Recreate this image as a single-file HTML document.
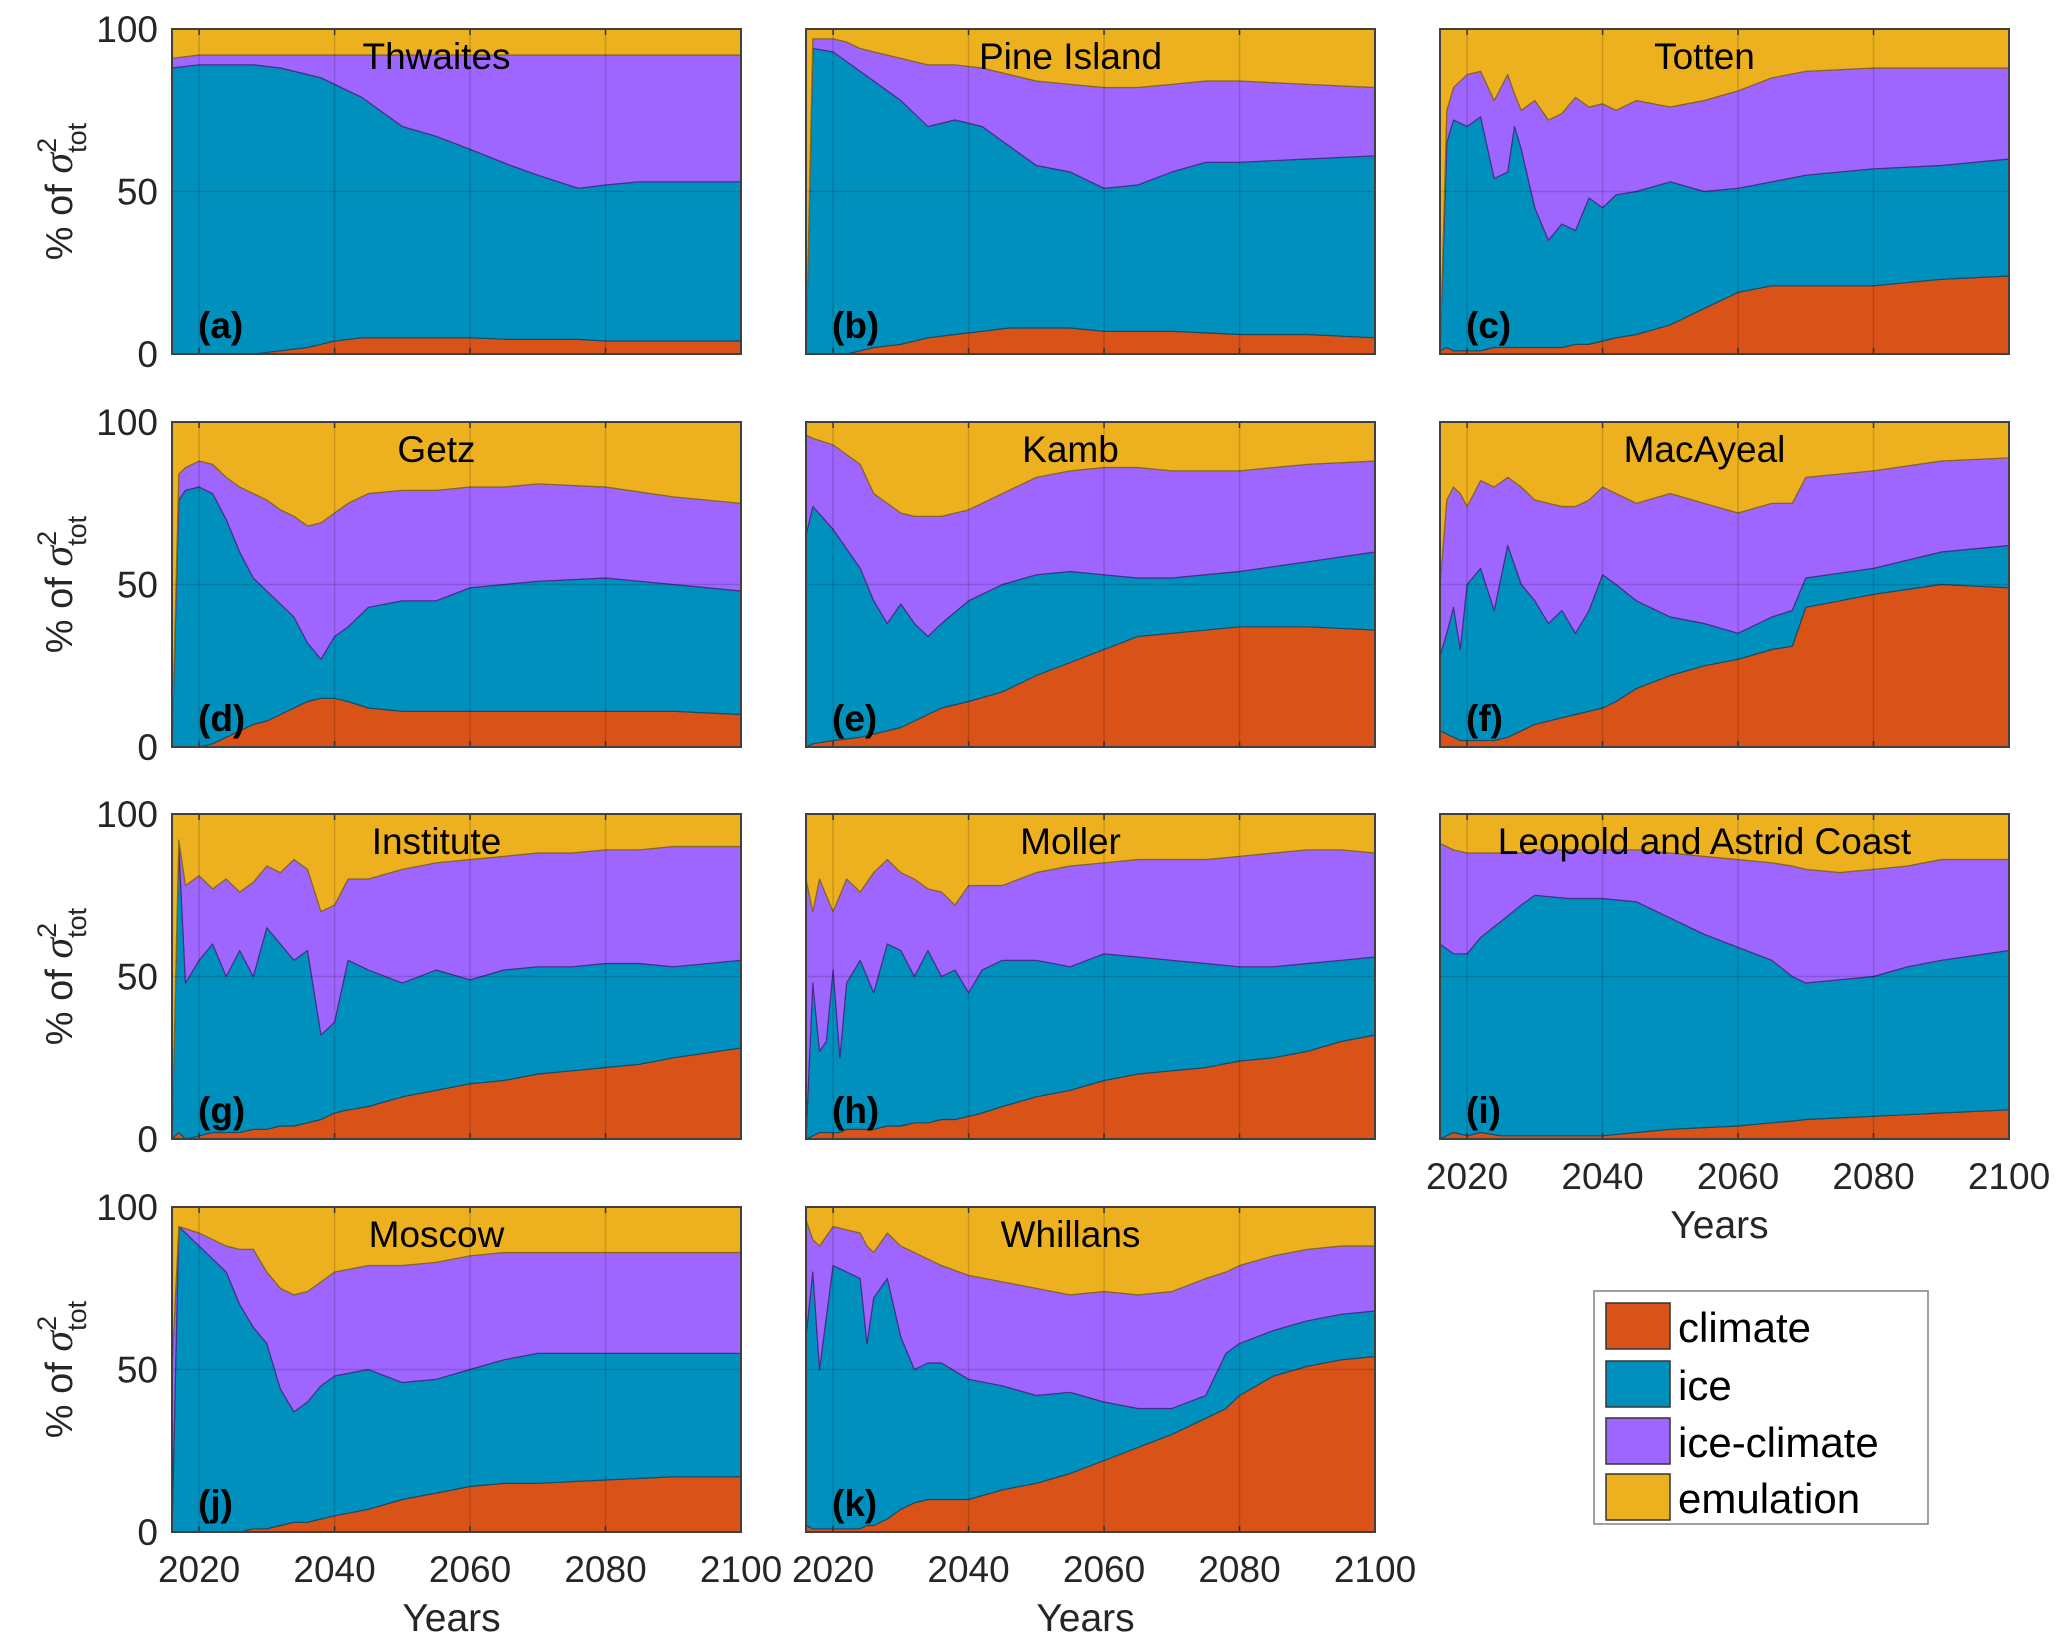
<!DOCTYPE html>
<html><head><meta charset="utf-8"><style>
html,body{margin:0;padding:0;background:#fff}
svg{display:block;font-family:"Liberation Sans",Arial,sans-serif}
</style></head><body>
<svg id="fig" width="2067" height="1650" viewBox="0 0 2067 1650" xmlns="http://www.w3.org/2000/svg"></svg>
<script>
const panelNames = ["Thwaites","Pine Island","Totten","Getz","Kamb","MacAyeal","Institute","Moller","Leopold and Astrid Coast","Moscow","Whillans"];
const panelLetters = ["(a)","(b)","(c)","(d)","(e)","(f)","(g)","(h)","(i)","(j)","(k)"];
const xTicks = [2020,2040,2060,2080,2100];
const yTicks = [0,50,100];
const seriesNames = ["climate","ice","ice-climate","emulation"];
// cumulative tops: climate, climate+ice, climate+ice+ice-climate (rest = emulation)
const yearsA=[2016,2020,2024,2028,2032,2036,2038,2040,2042,2044,2046,2050,2055,2060,2066,2070,2076,2080,2085,2100];
const climA=[0,0,0,0,1,2,3,4,4.5,5,5,5,5,5,4.5,4.5,4.5,4,4,4];
const iceA=[88,89,89,89,88,86,85,83,81,79,76,70,67,63,58,55,51,52,53,53];
const icA=[91,92,92,92,92,92,92,92,92,92,92,92,92,92,92,92,92,92,92,92];
const yearsB=[2016,2017,2020,2022,2024,2026,2030,2034,2038,2042,2046,2050,2055,2060,2065,2070,2075,2080,2090,2100];
const climB=[0,0,0,0,1,2,3,5,6,7,8,8,8,7,7,7,6.5,6,6,5];
const iceB=[0,94,93,90,87,84,78,70,72,70,64,58,56,51,52,56,59,59,60,61];
const icB=[0,97,97,96,94,93,91,89,89,88,86,84,83,82,82,83,84,84,83,82];
const yearsC=[2016,2017,2018,2020,2022,2024,2026,2027,2028,2030,2032,2034,2036,2038,2040,2042,2045,2050,2055,2060,2065,2070,2080,2090,2100];
const climC=[1,2,1,1,1,2,2,2,2,2,2,2,3,3,4,5,6,9,14,19,21,21,21,23,24];
const iceC=[0,65,72,70,73,54,56,70,63,45,35,40,38,48,45,49,50,53,50,51,53,55,57,58,60];
const icC=[0,75,82,86,87,78,86,80,75,78,72,74,79,76,77,75,78,76,78,81,85,87,88,88,88];
const yearsD=[2016,2017,2018,2020,2022,2024,2026,2028,2030,2032,2034,2036,2038,2040,2042,2045,2050,2055,2060,2065,2070,2080,2090,2100];
const climD=[0,0,0,0,1,3,5,7,8,10,12,14,15,15,14,12,11,11,11,11,11,11,11,10];
const iceD=[0,76,79,80,78,70,60,52,48,44,40,32,27,34,37,43,45,45,49,50,51,52,50,48];
const icD=[0,84,86,88,87,83,80,78,76,73,71,68,69,72,75,78,79,79,80,80,81,80,77,75];
const yearsE=[2016,2017,2020,2024,2026,2028,2030,2032,2034,2036,2040,2045,2050,2055,2060,2065,2070,2080,2090,2100];
const climE=[0,1,2,3,4,5,6,8,10,12,14,17,22,26,30,34,35,37,37,36];
const iceE=[65,74,67,55,45,38,44,38,34,38,45,50,53,54,53,52,52,54,57,60];
const icE=[96,95,93,87,78,75,72,71,71,71,73,78,83,85,86,86,85,85,87,88];
const yearsF=[2016,2017,2018,2019,2020,2022,2024,2026,2028,2030,2032,2034,2036,2038,2040,2042,2045,2050,2055,2060,2065,2068,2070,2080,2090,2100];
const climF=[5,4,3,2,2,2,2,3,5,7,8,9,10,11,12,14,18,22,25,27,30,31,43,47,50,49];
const iceF=[28,35,43,30,50,55,42,62,50,45,38,42,35,42,53,50,45,40,38,35,40,42,52,55,60,62];
const icF=[50,76,80,78,74,82,80,83,80,76,75,74,74,76,80,78,75,78,75,72,75,75,83,85,88,89];
const yearsG=[2016,2017,2018,2020,2022,2024,2026,2028,2030,2032,2034,2036,2038,2040,2042,2045,2050,2055,2060,2065,2070,2075,2080,2085,2090,2100];
const climG=[0,2,0,1,2,2,2,3,3,4,4,5,6,8,9,10,13,15,17,18,20,21,22,23,25,28];
const iceG=[0,90,48,55,60,50,58,50,65,60,55,58,32,36,55,52,48,52,49,52,53,53,54,54,53,55];
const icG=[0,92,78,81,77,80,76,79,84,82,86,83,70,72,80,80,83,85,86,87,88,88,89,89,90,90];
const yearsH=[2016,2017,2018,2019,2020,2021,2022,2024,2026,2028,2030,2032,2034,2036,2038,2040,2042,2045,2050,2055,2060,2065,2070,2075,2080,2085,2090,2095,2100];
const climH=[0,1,2,2,2,2,3,3,3,4,4,5,5,6,6,7,8,10,13,15,18,20,21,22,24,25,27,30,32];
const iceH=[0,48,27,30,52,25,48,55,45,60,58,50,58,50,52,45,52,55,55,53,57,56,55,54,53,53,54,55,56];
const icH=[80,70,80,75,70,75,80,76,82,86,82,80,77,76,72,78,78,78,82,84,85,86,86,86,87,88,89,89,88];
const yearsI=[2016,2018,2020,2022,2025,2028,2030,2035,2040,2045,2050,2055,2060,2065,2068,2070,2075,2080,2085,2090,2100];
const climI=[0,2,1,2,1,1,1,1,1,2,3,3.5,4,5,5.5,6,6.5,7,7.5,8,9];
const iceI=[60,57,57,62,67,72,75,74,74,73,68,63,59,55,50,48,49,50,53,55,58];
const icI=[91,89,88,88,88,88,89,89,89,89,88,87,86,85,84,83,82,83,84,86,86];
const yearsJ=[2016,2017,2020,2024,2026,2028,2030,2032,2034,2036,2038,2040,2045,2050,2055,2060,2065,2070,2080,2090,2100];
const climJ=[0,0,0,0,0,1,1,2,3,3,4,5,7,10,12,14,15,15,16,17,17];
const iceJ=[0,94,88,80,70,63,58,44,37,40,45,48,50,46,47,50,53,55,55,55,55];
const icJ=[50,94,92,88,87,87,80,75,73,74,77,80,82,82,83,85,86,86,86,86,86];
const yearsK=[2016,2017,2018,2020,2022,2024,2025,2026,2028,2030,2032,2034,2036,2040,2045,2050,2055,2060,2065,2070,2075,2078,2080,2085,2090,2095,2100];
const climK=[2,1,1,1,1,1,2,2,4,7,9,10,10,10,13,15,18,22,26,30,35,38,42,48,51,53,54];
const iceK=[60,80,50,82,80,78,58,72,78,60,50,52,52,47,45,42,43,40,38,38,42,55,58,62,65,67,68];
const icK=[96,90,88,94,93,92,88,86,92,88,86,84,82,79,77,75,73,74,73,74,78,80,82,85,87,88,88];

const panelYears=[yearsA,yearsB,yearsC,yearsD,yearsE,yearsF,yearsG,yearsH,yearsI,yearsJ,yearsK];
const panelClim=[climA,climB,climC,climD,climE,climF,climG,climH,climI,climJ,climK];
const panelIce=[iceA,iceB,iceC,iceD,iceE,iceF,iceG,iceH,iceI,iceJ,iceK];
const panelIc=[icA,icB,icC,icD,icE,icF,icG,icH,icI,icJ,icK];

const colors=["#D95319","#0090BE","#9F66FF","#EDB120"];
const edges=["#8a3a14","#0a4f6e","#4b2b8a","#8a6a12"];
const NS="http://www.w3.org/2000/svg";
const svg=document.getElementById("fig");
const colLeft=[172,806,1440], rowTop=[29,422,814,1207], PW=569, PH=325;
const X0=2016,X1=2100;
function mk(tag,attrs,parent){const e=document.createElementNS(NS,tag);for(const k in attrs)e.setAttribute(k,attrs[k]);(parent||svg).appendChild(e);return e;}

for(let p=0;p<11;p++){
  const r=Math.floor(p/3), c=p%3;
  const L=colLeft[c], T=rowTop[r];
  const xs=yr=>L+(yr-X0)/(X1-X0)*PW;
  const ys=v=>T+PH-v/100*PH;
  const g=mk("g",{});
  
  
  const yrs=panelYears[p];
  const layers=[yrs.map(()=>0),panelClim[p],panelIce[p],panelIc[p],yrs.map(()=>100)];
  for(let s=0;s<4;s++){
    const lo=layers[s], hi=layers[s+1];
    let d="M"+yrs.map((y,i)=>xs(y).toFixed(1)+","+ys(hi[i]).toFixed(1)).join(" L");
    for(let i=yrs.length-1;i>=0;i--) d+=" L"+xs(yrs[i]).toFixed(1)+","+ys(lo[i]).toFixed(1);
    d+="Z";
    const a=mk("path",{d:d,fill:colors[s],stroke:edges[s],"stroke-width":1.2,"stroke-linejoin":"round"},g);
    
    
  }
  for(const t of xTicks){ if(t<X1){ const l=mk("line",{x1:xs(t),x2:xs(t),y1:T,y2:T+PH,stroke:"#000","stroke-opacity":0.15,"stroke-width":1.5},g);
    
    
    mk("line",{x1:xs(t),x2:xs(t),y1:T+PH,y2:T+PH-6,stroke:"#333","stroke-width":1.5},g);
    mk("line",{x1:xs(t),x2:xs(t),y1:T,y2:T+6,stroke:"#333","stroke-width":1.5},g);} }
  mk("line",{x1:L,x2:L+PW,y1:ys(50),y2:ys(50),stroke:"#000","stroke-opacity":0.15,"stroke-width":1.5},g);
  const box=mk("rect",{x:L,y:T,width:PW,height:PH,fill:"none",stroke:"#404040","stroke-width":2},g);
  
  
  const title=mk("text",{x:L+PW/2-20,y:T+40,"font-size":37,"text-anchor":"middle",fill:"#000"},g);
  title.textContent=panelNames[p];
  
  
  const lt=mk("text",{x:L+26,y:T+PH-16,"font-size":37,"font-weight":"bold",fill:"#000"},g);
  lt.textContent=panelLetters[p];
  
  
  if(c===0){
    for(const t of yTicks){const tx=mk("text",{x:L-14,y:ys(t)+13,"font-size":37,"text-anchor":"end",fill:"#262626"},g);
      tx.textContent=t;
      
      }
    const yl=mk("text",{transform:`translate(72,${T+PH/2}) rotate(-90)`,"font-size":38,"text-anchor":"middle",fill:"#262626"},g);
    yl.innerHTML='% of  <tspan font-style="italic" font-family="Liberation Serif, serif" font-size="42">σ</tspan><tspan font-size="27" dy="-16">2</tspan><tspan font-size="27" dx="-15" dy="30">tot</tspan>';
    
    
  }
  if(p>=8){
    for(const t of xTicks){const tx=mk("text",{x:xs(t),y:T+PH+50,"font-size":37,"text-anchor":"middle",fill:"#262626"},g);
      tx.textContent=t;
      
      }
    const xl=mk("text",{x:L+PW/2-5,y:T+PH+99,"font-size":39,"text-anchor":"middle",fill:"#262626"},g);
    xl.textContent="Years";
    
    
  }
}
const lg=mk("g",{});


mk("rect",{x:1594,y:1291,width:334,height:233,fill:"#fff",stroke:"#808080","stroke-width":1.5},lg);
const ly=[1303,1361,1418,1474];
for(let s=0;s<4;s++){
  const sw=mk("rect",{x:1606,y:ly[s],width:64,height:46,fill:colors[s],stroke:"#333","stroke-width":1.5},lg);
  
  
  const t=mk("text",{x:1678,y:ly[s]+39,"font-size":42,fill:"#000"},lg);
  t.textContent=seriesNames[s];
  
  
}
</script>
</body></html>
